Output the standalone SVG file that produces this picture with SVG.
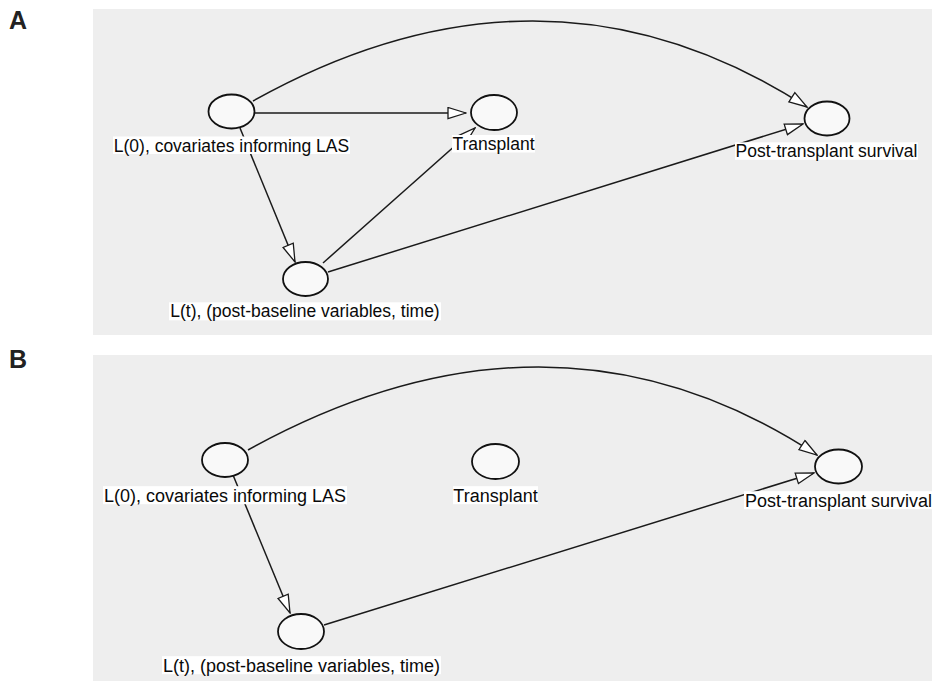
<svg xmlns="http://www.w3.org/2000/svg" width="932" height="681" viewBox="0 0 932 681">
<style>
.panel{fill:#eeeeee}
.node{fill:#f9f9f9;stroke:#111;stroke-width:1.8}
.edge{fill:none;stroke:#1a1a1a;stroke-width:1.5}
.lblbox{fill:#ffffff}
.lblA{font-family:"Liberation Sans",Arial,sans-serif;font-size:17.5px;fill:#0a0a0a;text-anchor:middle}
.lblB{font-family:"Liberation Sans",Arial,sans-serif;font-size:18px;fill:#0a0a0a;text-anchor:middle}
.tag{font-family:"Liberation Sans",Arial,sans-serif;font-size:25px;font-weight:bold;fill:#222}
</style>
<defs>
<marker id="arr" markerUnits="userSpaceOnUse" viewBox="0 0 20 14" markerWidth="20" markerHeight="14" refX="19" refY="6.5" orient="auto">
<path d="M1,1 L19,6.5 L1,12 Z" fill="#fff" stroke="#1a1a1a" stroke-width="1.3" stroke-linejoin="miter"/>
</marker>
</defs>
<rect fill="#fff" x="0" y="0" width="932" height="681"/>
<text class="tag" x="9" y="29">A</text>
<text class="tag" x="9" y="367.5">B</text>
<rect class="panel" x="93" y="9" width="839" height="326"/>
<rect class="panel" x="93" y="355" width="839" height="326"/>

<g id="connectors">
<line class="edge" x1="254.5" y1="113" x2="466" y2="113" marker-end="url(#arr)"/>
<line class="edge" x1="240" y1="128" x2="295" y2="262" marker-end="url(#arr)"/>
<line class="edge" x1="323" y1="263" x2="475" y2="128" marker-end="url(#arr)"/>
<line class="edge" x1="328" y1="272" x2="803" y2="124" marker-end="url(#arr)"/>
<path class="edge" d="M253,101 Q545,-62 807,107" marker-end="url(#arr)"/>
<line class="edge" x1="233" y1="475" x2="290" y2="613" marker-end="url(#arr)"/>
<line class="edge" x1="324" y1="625" x2="814" y2="473" marker-end="url(#arr)"/>
<path class="edge" d="M248,450 Q553,281.5 817,455" marker-end="url(#arr)"/>
</g>

<g id="A-L0">
<ellipse class="node" cx="231.5" cy="111.5" rx="23" ry="17"/>
<rect class="lblbox" x="113" y="136.5" width="237" height="17.5"/>
<text class="lblA" x="231.5" y="151.5">L(0), covariates informing LAS</text>
</g>
<g id="A-Transplant">
<ellipse class="node" cx="494" cy="112.5" rx="23" ry="17.5"/>
<rect class="lblbox" x="452" y="135" width="83" height="17.5"/>
<text class="lblA" x="493.5" y="150">Transplant</text>
</g>
<g id="A-Post">
<ellipse class="node" cx="827" cy="118.5" rx="22.5" ry="17"/>
<rect class="lblbox" x="735" y="142.3" width="183" height="17.5"/>
<text class="lblA" x="826.5" y="157.3">Post-transplant survival</text>
</g>
<g id="A-Lt">
<ellipse class="node" cx="305.5" cy="279" rx="22.5" ry="17"/>
<rect class="lblbox" x="169" y="302.3" width="272" height="18"/>
<text class="lblA" x="305" y="317.3">L(t), (post-baseline variables, time)</text>
</g>

<g id="B-L0">
<ellipse class="node" cx="225" cy="460" rx="23" ry="17"/>
<rect class="lblbox" x="103" y="486.2" width="244" height="18"/>
<text class="lblB" x="225" y="501.7">L(0), covariates informing LAS</text>
</g>
<g id="B-Transplant">
<ellipse class="node" cx="495.5" cy="461.5" rx="23.5" ry="17.5"/>
<rect class="lblbox" x="453" y="486.2" width="85" height="18"/>
<text class="lblB" x="495.5" y="501.7">Transplant</text>
</g>
<g id="B-Post">
<ellipse class="node" cx="838.5" cy="466.5" rx="23.5" ry="17"/>
<rect class="lblbox" x="744" y="491.2" width="188" height="18"/>
<text class="lblB" x="838.5" y="506.7">Post-transplant survival</text>
</g>
<g id="B-Lt">
<ellipse class="node" cx="301" cy="631.5" rx="23" ry="17.5"/>
<rect class="lblbox" x="162" y="656.2" width="279" height="18"/>
<text class="lblB" x="301.5" y="671.7">L(t), (post-baseline variables, time)</text>
</g>
</svg>
